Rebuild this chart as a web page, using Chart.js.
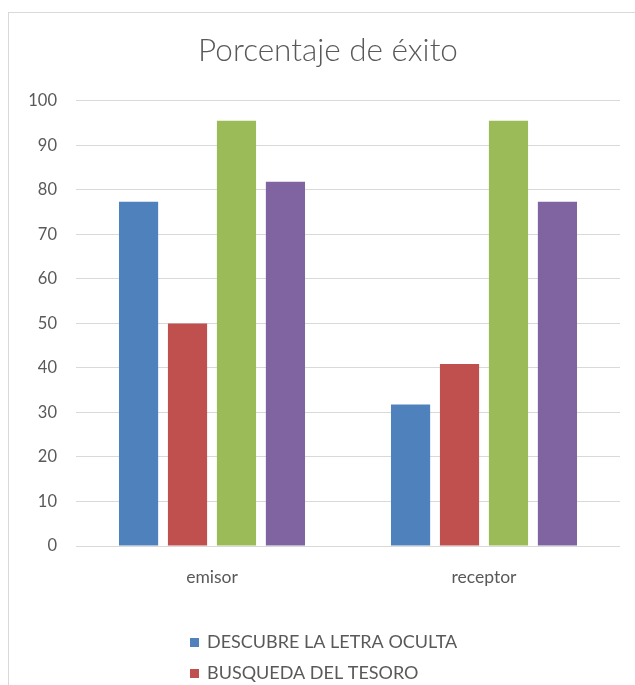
<!DOCTYPE html>
<html>
<head>
<meta charset="utf-8">
<script src="https://cdn.jsdelivr.net/npm/chart.js@4/dist/chart.umd.min.js"></script>
<style>
	html, body { margin: 0; padding: 0; background: #fff; overflow: hidden; }
	#frame {
		position: absolute; left: 8px; top: 12px;
		width: 640px; height: 673px;
		border-top: 1px solid #d9d9d9; border-left: 1px solid #d9d9d9;
	}
	#frame canvas { display: block; }
</style>
</head>
<body>
<div id="frame"><canvas id="chart" width="638" height="672"></canvas></div>
<script>
const categories = ['emisor', 'receptor'];
const seriesNames = ['DESCUBRE LA LETRA OCULTA', 'BUSQUEDA DEL TESORO', '', ''];
const letraOculta = [77.3, 31.8];
const busquedaTesoro = [50, 40.9];
const serie3 = [95.5, 95.5];
const serie4 = [81.8, 77.3];
const yTicks = [0, 10, 20, 30, 40, 50, 60, 70, 80, 90, 100];

const colors = ['#4f81bd', '#c0504d', '#9bbb59', '#8064a2'];
const seriesValues = [letraOculta, busquedaTesoro, serie3, serie4];
const textColor = '#595959';
const fontFamily = 'Lato, "Open Sans", sans-serif';

// legend stacked one entry per row under the axis, like the office layout
const stackedLegend = {
	id: 'stackedLegend',
	afterDraw(chart) {
		const { ctx } = chart;
		ctx.save();
		ctx.font = '18px ' + fontFamily;
		ctx.textBaseline = 'middle';
		chart.data.datasets.forEach((ds, i) => {
			const y = 629 + i * 31;
			ctx.fillStyle = ds.backgroundColor;
			ctx.fillRect(181, y - 4, 9, 9);
			ctx.fillStyle = textColor;
			ctx.fillText(ds.label, 198, y);
		});
		ctx.restore();
	}
};

new Chart(document.getElementById('chart'), {
	type: 'bar',
	data: {
		labels: categories,
		datasets: seriesValues.map((vals, i) => ({
			label: seriesNames[i],
			data: vals,
			backgroundColor: colors[i],
			borderWidth: 0,
			categoryPercentage: 0.72,
			barPercentage: 0.8,
		})),
	},
	options: {
		responsive: false,
		animation: false,
		layout: { padding: { left: 0, right: 0, bottom: 84 } },
		plugins: {
			legend: { display: false },
			tooltip: { enabled: false },
			title: {
				display: true,
				text: 'Porcentaje de éxito',
				color: textColor,
				font: { family: fontFamily, size: 31.5, weight: '300' },
				padding: { top: 19, bottom: 31 },
			},
		},
		scales: {
			x: {
				grid: { display: false },
				border: { display: false },
				ticks: { color: textColor, font: { family: fontFamily, size: 17.5 }, padding: 13 },
			},
			y: {
				min: 0,
				max: 100,
				afterBuildTicks: (scale) => { scale.ticks = yTicks.map(v => ({ value: v })); },
				afterFit: (scale) => { scale.width = 67; },
				grid: { color: '#d9d9d9', drawTicks: false },
				border: { display: false },
				ticks: { color: textColor, font: { family: fontFamily, size: 16.5 }, padding: 19 },
			},
			// empty right-hand strip so the plot ends short of the frame
			spacer: {
				type: 'linear',
				position: 'right',
				afterFit: (scale) => { scale.width = 27; },
				grid: { display: false },
				border: { display: false },
				ticks: { display: false },
			},
		},
	},
	plugins: [stackedLegend],
});
</script>
</body>
</html>
